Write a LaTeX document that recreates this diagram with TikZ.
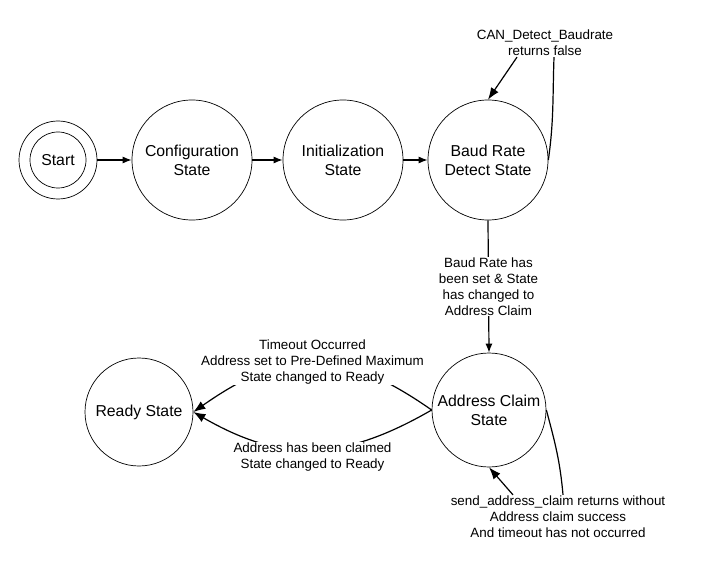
\documentclass[tikz,border=0pt]{standalone}
\usepackage{fontspec}
\setmainfont{Liberation Sans}
\usetikzlibrary{arrows.meta,calc}
\tikzset{%
	state/.style = {circle,draw,line width=0.7pt,minimum size=120pt,inner sep=0pt,align=center,font=\fontsize{15.8}{19}\selectfont},
	cond/.style = {align=center,inner sep=1pt,font=\fontsize{13.4}{16}\selectfont},
	trans/.style = {-{Latex[length=9pt,width=7pt]},line width=1.2pt},
	bigtrans/.style = {-{Latex[length=12pt,width=9pt]},line width=1.2pt}%
}

\begin{document}
\begin{tikzpicture}[x=1pt,y=1pt]
		\useasboundingbox (0,0) rectangle (711,-577);
		
		\node(start)[state,minimum size=78pt]at(58,-160){Start};
		\draw[line width=0.7pt](start.center)circle(28pt);
		\node(config)[state]at(192,-160){Configuration\\State};
		\node(init)[state]at(343,-160){Initialization\\State};
		\node(baud)[state]at(488,-160){Baud Rate\\Detect State};
		\node(addr)[state,minimum size=114pt]at(489,-410){Address Claim\\State};
		\node(ready)[state,minimum size=108pt]at(139,-412){Ready State};
		
		\draw[trans](start)--(config);
		\draw[trans](config)--(init);
		\draw[trans](init)--(baud);
		
		\node(lbaud)[cond]at(545,-43){CAN\_Detect\_Baudrate\\returns false};
		\draw[line width=1.2pt](baud.east)to[out=82,in=-92]($(lbaud.south)+(9,0)$);
		\draw[bigtrans]($(lbaud.south)+(-28,0)$)--(baud.north);
		
		\draw[trans](baud.south)--node[cond,fill=white]{Baud Rate has\\been set \& State\\has changed to\\Address Claim}(addr.north);
		
		\draw[bigtrans](addr.west)to[out=145,in=35,looseness=1.2]node[cond,fill=white,yshift=1pt]{Timeout Occurred\\Address set to Pre-Defined Maximum\\State changed to Ready}(ready.east);
		\draw[bigtrans](addr.west)to[out=-150,in=-30,looseness=1.1]node[cond,fill=white,yshift=-8pt]{Address has been claimed\\State changed to Ready}(ready.east);
		
		\node(laddr)[cond]at(558,-517){send\_address\_claim returns without\\Address claim success\\And timeout has not occurred};
		\draw[line width=1.2pt](addr.east)to[out=-75,in=95]($(laddr.north)+(5,0)$);
		\draw[bigtrans]($(laddr.north)+(-45,0)$)--(addr.south);
\end{tikzpicture}
\end{document}
